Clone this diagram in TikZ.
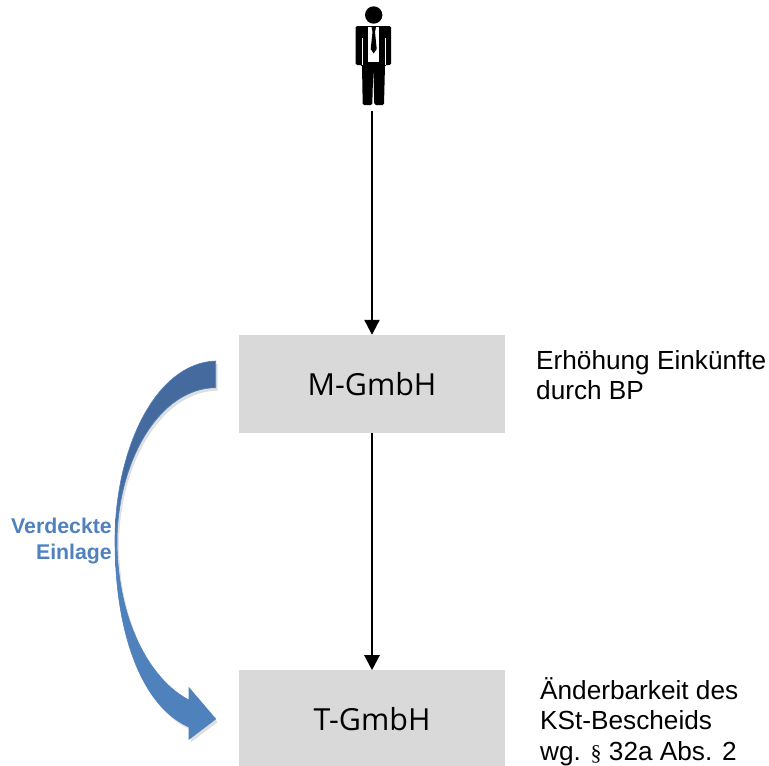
\documentclass[tikz,border=0pt]{standalone}
\usepackage{fontspec}
\setmainfont{Liberation Sans}
\newfontfamily\boxfont{Open Sans}
\newfontfamily\paragraphfont{Liberation Serif}
\usetikzlibrary{arrows.meta, positioning, shadows}
\definecolor{boxgray}{HTML}{D9D9D9}
\definecolor{arrowblue}{HTML}{4F81BD}
\pgfdeclareverticalshading{einlageshade}{100bp}{rgb(0bp)=(.31,.506,.741); rgb(50bp)=(.31,.506,.741); rgb(60bp)=(.27,.42,.62); rgb(100bp)=(.27,.42,.62)}
\tikzset{
  company/.style={rectangle, fill=boxgray, minimum width=266pt, minimum height=98pt, inner sep=0pt, font=\boxfont\fontsize{30.4}{36}\selectfont},
  remark/.style={align=left, inner sep=0pt, font=\fontsize{26.2}{30.5}\selectfont},
  flow/.style={-{Triangle[length=15pt,width=15pt]}, line width=2.2pt, black}
}

\begin{document}
\begin{tikzpicture}[x=1pt, y=-1pt]
\useasboundingbox (0,0) rectangle (769,766);

% person
\fill (373.7,15) circle (8.7);
\fill[rounded corners=1.5pt] (355.7,65) -- (355.7,26) -- (391,26) -- (391,65) -- (385,65) -- (384,105) -- (374.3,105) -- (373.3,66) -- (372.3,105) -- (362.7,105) -- (362,65) -- cycle;
\fill[white] (368.3,26.7) -- (379,26.7) -- (379,61.7) -- (368.3,61.7) -- cycle;
\fill (371.5,27) -- (376,27) -- (375,32) -- (376.7,49) -- (373.7,53.5) -- (370.7,49) -- (372.5,32) -- cycle;
\draw[white, line width=.7pt] (362.3,38) -- (362.3,65) (385,38) -- (385,65);

\coordinate (person) at (372,111);
\node[company] (mgmbh) at (372,384) {M-GmbH};
\node[company, below=237pt of mgmbh] (tgmbh) {T-GmbH};

\draw[flow] (person) -- (mgmbh);
\draw[flow] (mgmbh) -- (tgmbh);

\node[remark, anchor=west] (einkuenfte) at (536,375) {Erhöhung Einkünfte\\durch BP};
\node[remark, anchor=north west] (bescheid) at (540,677) {Änderbarkeit des\\KSt-Bescheids\\wg. {\paragraphfont\fontsize{22}{30.5}\selectfont §} 32a Abs. 2};

% curved arrow
\path[shade, shading=einlageshade, draw=arrowblue, line width=.6pt, drop shadow={opacity=.25, shadow xshift=2pt, shadow yshift=-3pt}]
  (215.7,361) .. controls (155,363) and (115,450) .. (115,540)
  .. controls (115,640) and (145,708) .. (189,727)
  -- (189,739.3) -- (215.7,719) -- (189,687.7) -- (189,700)
  .. controls (150,680) and (117,620) .. (117,540)
  .. controls (118,460) and (160,388) .. (215.7,387.7) -- cycle;
\node[anchor=east, align=right, inner sep=0pt, text=arrowblue, font=\bfseries\fontsize{21.3}{26}\selectfont] (einlage) at (112,541) {Verdeckte\\Einlage};
\end{tikzpicture}
\end{document}
